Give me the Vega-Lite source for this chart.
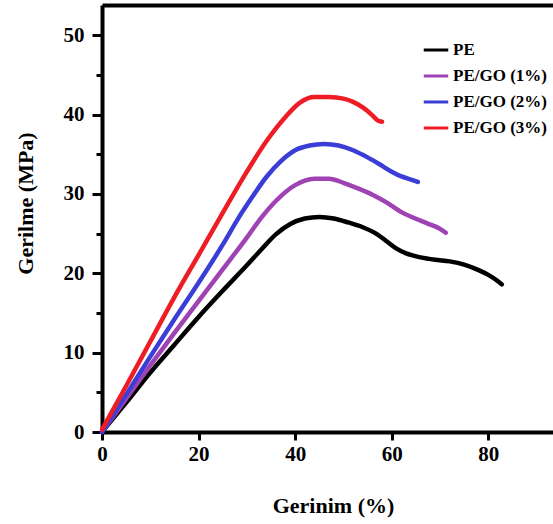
{
  "$schema": "https://vega.github.io/schema/vega-lite/v6.json",
  "width": 451,
  "height": 427,
  "autosize": {"type": "none"},
  "padding": {"left": 102, "top": 5, "right": 0, "bottom": 92},
  "background": "white",
  "config": {"view": {"stroke": null}, "font": "Liberation Serif"},
  "data": {
    "values": [
      {"sample": "PE", "strain": 0, "stress": 0},
      {"sample": "PE", "strain": 5, "stress": 3.7},
      {"sample": "PE", "strain": 10, "stress": 7.5},
      {"sample": "PE", "strain": 15, "stress": 11.0},
      {"sample": "PE", "strain": 20, "stress": 14.5},
      {"sample": "PE", "strain": 25, "stress": 17.8},
      {"sample": "PE", "strain": 30, "stress": 21.0},
      {"sample": "PE", "strain": 33, "stress": 23.0},
      {"sample": "PE", "strain": 36, "stress": 24.9},
      {"sample": "PE", "strain": 39, "stress": 26.2},
      {"sample": "PE", "strain": 42, "stress": 26.9},
      {"sample": "PE", "strain": 45, "stress": 27.1},
      {"sample": "PE", "strain": 48, "stress": 26.9},
      {"sample": "PE", "strain": 51, "stress": 26.4},
      {"sample": "PE", "strain": 54, "stress": 25.8},
      {"sample": "PE", "strain": 57, "stress": 24.9},
      {"sample": "PE", "strain": 59, "stress": 24.0},
      {"sample": "PE", "strain": 61, "stress": 23.1},
      {"sample": "PE", "strain": 63, "stress": 22.5},
      {"sample": "PE", "strain": 66, "stress": 22.0},
      {"sample": "PE", "strain": 69, "stress": 21.7},
      {"sample": "PE", "strain": 72, "stress": 21.5},
      {"sample": "PE", "strain": 75, "stress": 21.1},
      {"sample": "PE", "strain": 78, "stress": 20.4},
      {"sample": "PE", "strain": 80, "stress": 19.8},
      {"sample": "PE", "strain": 82, "stress": 19.0},
      {"sample": "PE", "strain": 82.8, "stress": 18.6},
      {"sample": "PE/GO (1%)", "strain": 0, "stress": 0},
      {"sample": "PE/GO (1%)", "strain": 5, "stress": 4.2},
      {"sample": "PE/GO (1%)", "strain": 10, "stress": 8.4},
      {"sample": "PE/GO (1%)", "strain": 15, "stress": 12.5},
      {"sample": "PE/GO (1%)", "strain": 20, "stress": 16.5},
      {"sample": "PE/GO (1%)", "strain": 25, "stress": 20.5},
      {"sample": "PE/GO (1%)", "strain": 30, "stress": 24.5},
      {"sample": "PE/GO (1%)", "strain": 33, "stress": 27.0},
      {"sample": "PE/GO (1%)", "strain": 36, "stress": 29.1},
      {"sample": "PE/GO (1%)", "strain": 40, "stress": 31.1},
      {"sample": "PE/GO (1%)", "strain": 44, "stress": 31.9},
      {"sample": "PE/GO (1%)", "strain": 47, "stress": 31.9},
      {"sample": "PE/GO (1%)", "strain": 50, "stress": 31.4},
      {"sample": "PE/GO (1%)", "strain": 53, "stress": 30.7},
      {"sample": "PE/GO (1%)", "strain": 56, "stress": 29.9},
      {"sample": "PE/GO (1%)", "strain": 59, "stress": 28.9},
      {"sample": "PE/GO (1%)", "strain": 62, "stress": 27.7},
      {"sample": "PE/GO (1%)", "strain": 64.5, "stress": 27.0},
      {"sample": "PE/GO (1%)", "strain": 67.7, "stress": 26.2},
      {"sample": "PE/GO (1%)", "strain": 70, "stress": 25.6},
      {"sample": "PE/GO (1%)", "strain": 71.2, "stress": 25.1},
      {"sample": "PE/GO (2%)", "strain": 0, "stress": 0},
      {"sample": "PE/GO (2%)", "strain": 5, "stress": 4.7},
      {"sample": "PE/GO (2%)", "strain": 10, "stress": 9.5},
      {"sample": "PE/GO (2%)", "strain": 15, "stress": 14.2},
      {"sample": "PE/GO (2%)", "strain": 20, "stress": 18.8},
      {"sample": "PE/GO (2%)", "strain": 25, "stress": 23.6},
      {"sample": "PE/GO (2%)", "strain": 28, "stress": 26.7},
      {"sample": "PE/GO (2%)", "strain": 31, "stress": 29.5},
      {"sample": "PE/GO (2%)", "strain": 34, "stress": 32.1},
      {"sample": "PE/GO (2%)", "strain": 37, "stress": 34.1},
      {"sample": "PE/GO (2%)", "strain": 40, "stress": 35.5},
      {"sample": "PE/GO (2%)", "strain": 43, "stress": 36.1},
      {"sample": "PE/GO (2%)", "strain": 46, "stress": 36.3},
      {"sample": "PE/GO (2%)", "strain": 49, "stress": 36.1},
      {"sample": "PE/GO (2%)", "strain": 52, "stress": 35.5},
      {"sample": "PE/GO (2%)", "strain": 55, "stress": 34.6},
      {"sample": "PE/GO (2%)", "strain": 57.3, "stress": 33.8},
      {"sample": "PE/GO (2%)", "strain": 60, "stress": 32.8},
      {"sample": "PE/GO (2%)", "strain": 62, "stress": 32.2},
      {"sample": "PE/GO (2%)", "strain": 64, "stress": 31.8},
      {"sample": "PE/GO (2%)", "strain": 65.4, "stress": 31.5},
      {"sample": "PE/GO (3%)", "strain": 0, "stress": 0.3},
      {"sample": "PE/GO (3%)", "strain": 5, "stress": 5.8},
      {"sample": "PE/GO (3%)", "strain": 10, "stress": 11.4},
      {"sample": "PE/GO (3%)", "strain": 15, "stress": 17.0},
      {"sample": "PE/GO (3%)", "strain": 20, "stress": 22.3},
      {"sample": "PE/GO (3%)", "strain": 25, "stress": 27.6},
      {"sample": "PE/GO (3%)", "strain": 30, "stress": 32.8},
      {"sample": "PE/GO (3%)", "strain": 34, "stress": 36.6},
      {"sample": "PE/GO (3%)", "strain": 38, "stress": 39.7},
      {"sample": "PE/GO (3%)", "strain": 41, "stress": 41.5},
      {"sample": "PE/GO (3%)", "strain": 44, "stress": 42.2},
      {"sample": "PE/GO (3%)", "strain": 47, "stress": 42.2},
      {"sample": "PE/GO (3%)", "strain": 50, "stress": 42.0},
      {"sample": "PE/GO (3%)", "strain": 52, "stress": 41.6},
      {"sample": "PE/GO (3%)", "strain": 54, "stress": 40.9},
      {"sample": "PE/GO (3%)", "strain": 56, "stress": 39.9},
      {"sample": "PE/GO (3%)", "strain": 57, "stress": 39.3},
      {"sample": "PE/GO (3%)", "strain": 58, "stress": 39.1}
    ]
  },
  "layer": [
    {
      "mark": {"type": "line", "strokeWidth": 4.5, "strokeCap": "round", "strokeJoin": "round", "interpolate": "monotone"},
      "encoding": {
        "x": {
          "field": "strain", "type": "quantitative",
          "scale": {"domain": [0, 93.4], "nice": false},
          "axis": {
            "orient": "bottom", "values": [0, 20, 40, 60, 80], "grid": false,
            "domainWidth": 4, "domainColor": "#000000",
            "tickColor": "#000000", "tickWidth": 3, "tickSize": 8,
            "labelFont": "Liberation Serif", "labelFontWeight": "bold", "labelFontSize": 21,
            "labelColor": "black", "labelPadding": 3, "labelFlush": false,
            "title": "Gerinim (%)", "titleFont": "Liberation Serif", "titleFontWeight": "bold",
            "titleFontSize": 22, "titleColor": "black", "titleX": 231, "titleY": 73, "titleBaseline": "middle"
          }
        },
        "y": {
          "field": "stress", "type": "quantitative",
          "scale": {"domain": [0, 53.8], "nice": false},
          "axis": {
            "orient": "left", "values": [0, 10, 20, 30, 40, 50], "grid": false,
            "domainWidth": 4, "domainColor": "#000000",
            "tickColor": "#000000", "tickWidth": 3, "tickSize": 10,
            "labelFont": "Liberation Serif", "labelFontWeight": "bold", "labelFontSize": 21,
            "labelColor": "black", "labelPadding": 8,
            "title": "Gerilme (MPa)", "titleFont": "Liberation Serif", "titleFontWeight": "bold",
            "titleFontSize": 22, "titleColor": "black", "titleX": -77, "titleY": 198, "titleAngle": -90, "titleBaseline": "middle"
          }
        },
        "color": {
          "field": "sample", "type": "nominal",
          "scale": {"domain": ["PE", "PE/GO (1%)", "PE/GO (2%)", "PE/GO (3%)"], "range": ["#000000", "#9e42b4", "#3b3ed6", "#ee1c25"]},
          "legend": {
            "orient": "none", "legendX": 320, "legendY": 31, "title": null,
            "symbolType": "stroke", "symbolStrokeWidth": 3, "symbolSize": 600,
            "labelFont": "Liberation Serif", "labelFontWeight": "bold", "labelFontSize": 17,
            "labelColor": "black", "labelOffset": 3, "rowPadding": 4
          }
        }
      }
    },
    {
      "mark": {"type": "point", "opacity": 0},
      "encoding": {
        "x": {
          "field": "strain", "type": "quantitative",
          "axis": {"orient": "top", "values": [], "labels": false, "ticks": false, "grid": false, "title": null,
                   "domainWidth": 4, "domainColor": "#000000"}
        },
        "y": {
          "field": "stress", "type": "quantitative",
          "axis": {"orient": "left", "values": [5, 15, 25, 35, 45], "labels": false, "domain": false, "grid": false,
                   "title": null, "tickColor": "#000000", "tickWidth": 3, "tickSize": 6}
        }
      }
    }
  ],
  "resolve": {"axis": {"x": "independent", "y": "independent"}}
}
